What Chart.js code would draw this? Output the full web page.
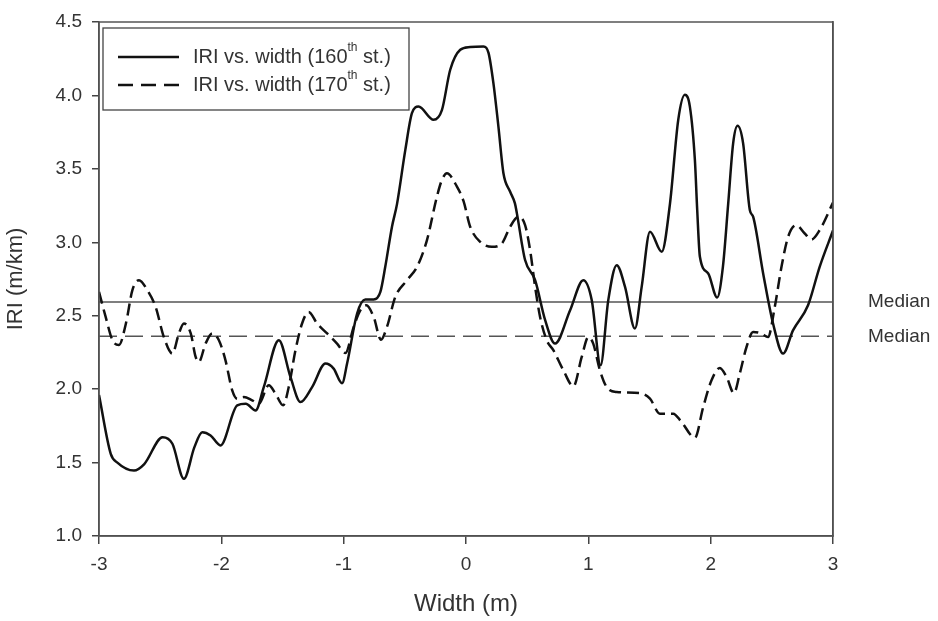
<!DOCTYPE html>
<html>
<head>
<meta charset="utf-8">
<script src="https://cdn.jsdelivr.net/npm/chart.js@4/dist/chart.umd.min.js"></script>
<style>
html,body{margin:0;padding:0;background:#fff;}
#wrap{width:938px;height:621px;position:relative;}
</style>
</head>
<body>
<div id="wrap"><canvas id="c" width="938" height="621"></canvas></div>
<script>
// ---- data ----
const width160 = [-3.0,-2.904,-2.85,-2.714,-2.63,-2.48,-2.40,-2.306,-2.22,-2.156,-2.088,-2.007,-1.87,-1.80,-1.72,-1.653,-1.53,-1.435,-1.353,-1.258,-1.149,-1.082,-1.013,-0.972,-0.89,-0.823,-0.755,-0.70,-0.66,-0.605,-0.564,-0.496,-0.442,-0.388,-0.265,-0.197,-0.129,-0.047,0.034,0.143,0.184,0.224,0.265,0.306,0.361,0.40,0.416,0.483,0.565,0.647,0.728,0.851,0.959,1.028,1.10,1.163,1.232,1.30,1.381,1.436,1.504,1.60,1.667,1.735,1.789,1.83,1.871,1.89,1.912,1.98,2.053,2.10,2.143,2.184,2.22,2.265,2.32,2.347,2.429,2.51,2.592,2.673,2.796,2.891,3.0];
const iri160 = [1.96,1.56,1.50,1.446,1.49,1.673,1.628,1.39,1.605,1.707,1.685,1.617,1.89,1.90,1.855,2.014,2.333,2.083,1.912,2.014,2.174,2.14,2.04,2.174,2.515,2.61,2.61,2.662,2.833,3.106,3.26,3.629,3.879,3.924,3.834,3.90,4.175,4.311,4.33,4.334,4.29,4.084,3.788,3.47,3.344,3.265,3.197,2.879,2.742,2.47,2.31,2.537,2.742,2.606,2.162,2.606,2.844,2.696,2.413,2.696,3.072,2.935,3.26,3.834,4.004,3.924,3.56,3.22,2.901,2.788,2.624,2.833,3.26,3.675,3.793,3.675,3.22,3.174,2.788,2.447,2.242,2.40,2.571,2.833,3.08];
const width170 = [-3.0,-2.945,-2.89,-2.837,-2.78,-2.727,-2.673,-2.605,-2.537,-2.47,-2.40,-2.347,-2.306,-2.25,-2.21,-2.184,-2.129,-2.074,-2.02,-1.966,-1.911,-1.87,-1.816,-1.748,-1.694,-1.612,-1.557,-1.495,-1.449,-1.394,-1.34,-1.286,-1.217,-1.135,-1.054,-0.986,-0.918,-0.864,-0.815,-0.755,-0.695,-0.646,-0.578,-0.482,-0.40,-0.319,-0.238,-0.197,-0.156,-0.074,-0.02,0.034,0.116,0.211,0.293,0.361,0.429,0.483,0.524,0.565,0.606,0.66,0.714,0.796,0.878,0.946,1.00,1.04,1.095,1.15,1.232,1.422,1.504,1.585,1.694,1.762,1.871,1.939,2.007,2.075,2.13,2.19,2.238,2.293,2.347,2.415,2.469,2.524,2.579,2.633,2.70,2.769,2.824,2.891,3.0];
const iri170 = [2.662,2.49,2.333,2.30,2.447,2.674,2.742,2.674,2.56,2.355,2.242,2.379,2.447,2.379,2.219,2.185,2.31,2.379,2.333,2.196,1.992,1.935,1.946,1.924,1.901,2.026,1.969,1.89,2.014,2.265,2.447,2.526,2.447,2.379,2.31,2.246,2.424,2.537,2.571,2.492,2.337,2.424,2.628,2.742,2.833,3.015,3.31,3.424,3.47,3.379,3.28,3.106,3.003,2.969,2.992,3.106,3.174,3.117,2.947,2.696,2.49,2.333,2.265,2.128,2.019,2.219,2.355,2.31,2.128,2.014,1.98,1.973,1.935,1.833,1.833,1.776,1.669,1.878,2.06,2.144,2.083,1.973,2.106,2.287,2.389,2.379,2.355,2.56,2.833,3.037,3.117,3.06,3.019,3.083,3.27];
const medianX = [-3, 3];
const median160 = 2.594;
const median170 = 2.36;
const xTicks = [-3,-2,-1,0,1,2,3];
const yTicks = [1.0,1.5,2.0,2.5,3.0,3.5,4.0,4.5];
const medianLabel = 'Median';
const legendParts = [['IRI vs. width (160','th',' st.)'], ['IRI vs. width (170','th',' st.)']];
const xTitle = 'Width (m)';
const yTitle = 'IRI (m/km)';

const pts = (xs, ys) => xs.map((x,i)=>({x:x, y:ys[i]}));
const FONT = "'Liberation Sans', Arial, sans-serif";
const TXT = '#333';

const frame = {
  id:'frame',
  afterDatasetsDraw(chart){
    const {ctx, chartArea:a} = chart;
    ctx.save();
    ctx.strokeStyle = '#555'; ctx.lineWidth = 1.5;
    ctx.strokeRect(a.left, a.top, a.right-a.left, a.bottom-a.top);
    ctx.restore();
  }
};

const legendBox = {
  id:'legendBox',
  afterDraw(chart){
    const ctx = chart.ctx;
    const bx = 103, by = 28, bw = 306, bh = 82;
    ctx.save();
    ctx.fillStyle = '#fff';
    ctx.fillRect(bx, by, bw, bh);
    ctx.strokeStyle = '#444'; ctx.lineWidth = 1.3;
    ctx.strokeRect(bx, by, bw, bh);
    const rows = [57, 85];
    const dashes = [[], [15, 8]];
    rows.forEach((ry, i) => {
      ctx.strokeStyle = '#111'; ctx.lineWidth = 2.5;
      ctx.setLineDash(dashes[i]);
      ctx.beginPath(); ctx.moveTo(118, ry); ctx.lineTo(179, ry); ctx.stroke();
      ctx.setLineDash([]);
      ctx.fillStyle = TXT;
      ctx.textBaseline = 'middle';
      ctx.textAlign = 'left';
      let x = 193;
      const p = legendParts[i];
      ctx.font = '20px ' + FONT;
      ctx.fillText(p[0], x, ry); x += ctx.measureText(p[0]).width;
      ctx.font = '12px ' + FONT;
      ctx.fillText(p[1], x, ry - 9); x += ctx.measureText(p[1]).width;
      ctx.font = '20px ' + FONT;
      ctx.fillText(p[2], x, ry);
    });
    ctx.restore();
  }
};

function fixV(w){ return s => { s.width = w; s.paddingTop = 0; s.paddingBottom = 0; }; }

new Chart(document.getElementById('c'), {
  type: 'line',
  data: {
    datasets: [
      { label: legendParts[0].join(''), data: pts(width160, iri160), borderColor:'#111', borderWidth:2.5, pointRadius:0, cubicInterpolationMode:'monotone', fill:false },
      { label: legendParts[1].join(''), data: pts(width170, iri170), borderColor:'#111', borderWidth:2.5, borderDash:[12,6], pointRadius:0, cubicInterpolationMode:'monotone', fill:false },
      { label: 'Median 160', data: pts(medianX, [median160, median160]), borderColor:'#555', borderWidth:1.5, pointRadius:0, tension:0, fill:false },
      { label: 'Median 170', data: pts(medianX, [median170, median170]), borderColor:'#555', borderWidth:1.5, borderDash:[18,8], pointRadius:0, tension:0, fill:false }
    ]
  },
  options: {
    responsive: false,
    animation: false,
    devicePixelRatio: 1,
    layout: { padding: { top: 22, left: 0, right: 0, bottom: 0 } },
    plugins: { legend: { display:false }, tooltip: { enabled:false } },
    scales: {
      x: {
        type: 'linear', min: -3, max: 3,
        afterBuildTicks(s){ s.ticks = xTicks.map(v=>({value:v})); },
        afterFit(s){ s.height = 85; s.paddingLeft = 0; s.paddingRight = 0; },
        ticks: { color: TXT, font: { family: FONT, size: 19 }, padding: 9, callback: v => String(v) },
        grid: { drawOnChartArea:false, drawTicks:true, tickLength:8, color:'#444', lineWidth:1.5 },
        border: { display:true, color:'#444', width:1.5 },
        title: { display:true, text:xTitle, color:TXT, font:{ family: FONT, size: 24 }, padding:{ top:0, bottom:2 } }
      },
      y: {
        type: 'linear', min: 1, max: 4.5, position:'left',
        afterBuildTicks(s){ s.ticks = yTicks.map(v=>({value:v})); },
        afterFit: fixV(99),
        ticks: { color: TXT, font: { family: FONT, size: 19 }, padding: 10, callback: v => v.toFixed(1) },
        grid: { drawOnChartArea:false, drawTicks:true, tickLength:7, color:'#444', lineWidth:1.5 },
        border: { display:true, color:'#444', width:1.5 },
        title: { display:true, text:yTitle, color:TXT, font:{ family: FONT, size: 22 }, padding:{ top:3, bottom:0 } }
      },
      y2: {
        type: 'linear', min: 1, max: 4.5, position:'right',
        afterBuildTicks(s){ s.ticks = [median160, median170].map(v=>({value:v})); },
        afterFit: fixV(105),
        ticks: { color: TXT, font: { family: FONT, size: 19 }, padding: 35, autoSkip:false, callback: () => medianLabel },
        grid: { display:false, drawOnChartArea:false, drawTicks:false },
        border: { display:true, color:'#444', width:1.5 }
      }
    }
  },
  plugins: [frame, legendBox]
});
</script>
</body>
</html>
